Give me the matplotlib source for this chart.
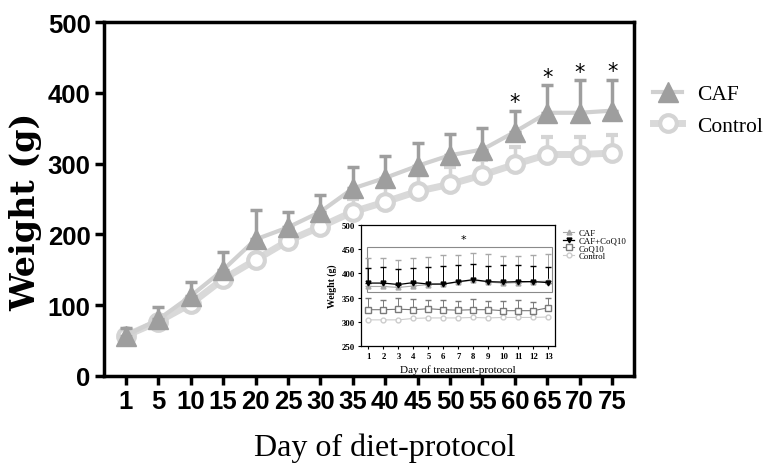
import numpy as np
import matplotlib.pyplot as plt
from matplotlib.patches import Rectangle

# main panel data (weight in g)
days = ["1", "5", "10", "15", "20", "25", "30", "35", "40", "45", "50", "55", "60", "65", "70", "75"]
caf = [57, 80, 113, 150, 193, 210, 232, 265, 280, 297, 312, 320, 345, 372, 372, 375]
caf_err = [11, 17, 20, 25, 42, 22, 24, 30, 31, 32, 30, 30, 30, 39, 46, 44]
ctrl = [57, 77, 102, 137, 164, 191, 211, 232, 246, 261, 271, 284, 299, 313, 313, 315]
ctrl_err = [5, 5, 6, 8, 8, 14, 14, 18, 24, 27, 24, 21, 24, 25, 25, 25]
star_idx = [12, 13, 14, 15]

# inset data
tdays = list(range(1, 14))
i_caf = [373, 373, 371, 374, 377, 378, 382, 386, 382, 380, 381, 383, 384]
i_caf_err = [59, 59, 57, 58, 56, 59, 55, 57, 59, 56, 55, 56, 56]
i_cafq = [380, 380, 377, 381, 378, 378, 383, 387, 383, 382, 383, 383, 381]
i_cafq_err = [31, 33, 32, 31, 35, 37, 34, 32, 33, 35, 34, 33, 32]
i_coq = [325, 325, 326, 325, 327, 325, 324, 325, 325, 323, 323, 323, 329]
i_coq_err = [24, 20, 23, 23, 18, 20, 20, 22, 18, 19, 22, 18, 20]
i_ctrl = [304, 304, 304, 307, 308, 308, 308, 309, 308, 309, 309, 309, 310]

serif = ['Liberation Serif', 'DejaVu Serif']
sans = ['Liberation Sans', 'DejaVu Sans']

fig = plt.figure(figsize=(7.64, 4.64), dpi=100)
ax = fig.add_axes([0.136, 0.1875, 0.694, 0.7625])
x = np.arange(len(days))

hc = ax.errorbar(x, ctrl, yerr=[np.zeros(len(ctrl)), ctrl_err], color='#d9d9d9', lw=5,
                 ecolor='#d4d4d4', elinewidth=2.5, capsize=4, capthick=2.5,
                 marker='o', ms=12, mfc='white', mec='#d4d4d4', mew=3, zorder=2)
ha = ax.errorbar(x, caf, yerr=[np.zeros(len(caf)), caf_err], color='#d0d0d0', lw=3,
                 ecolor='#9e9e9e', elinewidth=2.5, capsize=4, capthick=2.5,
                 marker='^', ms=15, mfc='#9e9e9e', mec='#9e9e9e', zorder=3)
for i in star_idx:
    ax.text(x[i], caf[i] + caf_err[i] - 2, '*', ha='center', va='bottom', fontsize=15, color='black')

ax.set_xlim(-0.68, 15.68)
ax.set_ylim(0, 500)
ax.set_xticks(x)
ax.set_xticklabels(days)
ax.set_yticks([0, 100, 200, 300, 400, 500])
for sp in ax.spines.values():
    sp.set_linewidth(2.5)
ax.tick_params(length=6.5, width=2.5, pad=3)
for lab in ax.get_xticklabels() + ax.get_yticklabels():
    lab.set_family(sans)
    lab.set_fontweight('bold')
    lab.set_fontsize(18.5)
fig.text(26 / 764, 1 - 212 / 464, 'Weight (g)', family=['DejaVu Serif'], fontweight='bold',
         fontsize=24, rotation=90, ha='center', va='center')
fig.text(385 / 764, 1 - 448 / 464, 'Day of diet-protocol', family=serif, fontsize=23,
         ha='center', va='center')

fig.legend([ha.lines[0], hc.lines[0]], ['CAF', 'Control'], loc='upper left',
           bbox_to_anchor=(653 / 764, 1 - 85 / 464), frameon=False, borderpad=0,
           borderaxespad=0, prop={'family': serif, 'size': 15.5}, handlelength=1.35,
           labelspacing=0.55, handletextpad=0.7)

# inset
ia = fig.add_axes([361 / 764, 117 / 464, 194 / 764, 121 / 464])
e1 = ia.errorbar(tdays, i_caf, yerr=[np.zeros(13), i_caf_err], color='#a8a8a8', lw=0.8,
                 elinewidth=0.7, capsize=2, marker='^', ms=3.5, mfc='#a8a8a8', mec='#a8a8a8')
e2 = ia.errorbar(tdays, i_cafq, yerr=[np.zeros(13), i_cafq_err], color='black', lw=0.9,
                 elinewidth=0.7, capsize=2, marker='v', ms=3.5)
e3 = ia.errorbar(tdays, i_coq, yerr=[np.zeros(13), i_coq_err], color='#7a7a7a', lw=0.8,
                 elinewidth=0.7, capsize=2, marker='s', ms=4, mfc='white', mec='#7a7a7a')
l4, = ia.plot(tdays, i_ctrl, color='#cccccc', lw=0.8, marker='o', ms=3.5, mfc='white',
              mec='#cccccc')
ia.add_patch(Rectangle((0.93, 362), 12.35, 93, fill=False, edgecolor='#8a8a8a', lw=0.8))
ia.text(7.35, 460, '*', ha='center', va='bottom', fontsize=8)
ia.set_xlim(0.5, 13.45)
ia.set_ylim(250, 500)
ia.set_xticks(tdays)
ia.set_yticks(range(250, 501, 50))
ia.tick_params(labelsize=6.3, length=2.5, width=0.8, pad=2)
for lab in ia.get_xticklabels() + ia.get_yticklabels():
    lab.set_family(serif)
    lab.set_fontweight('bold')
for sp in ia.spines.values():
    sp.set_linewidth(0.9)
ia.set_ylabel('Weight (g)', family=serif, fontweight='bold', fontsize=7, labelpad=3)
ia.set_xlabel('Day of treatment-protocol', family=serif, fontsize=8, labelpad=3)
fig.legend([e1.lines[0], e2.lines[0], e3.lines[0], l4], ['CAF', 'CAF+CoQ10', 'CoQ10', 'Control'],
           loc='upper left', bbox_to_anchor=(563 / 764, 1 - 230 / 464), frameon=False,
           borderpad=0, borderaxespad=0, prop={'family': serif, 'size': 6.3},
           handlelength=1.3, labelspacing=-0.05, handletextpad=0.5)

fig.savefig('out.png', dpi=100)
